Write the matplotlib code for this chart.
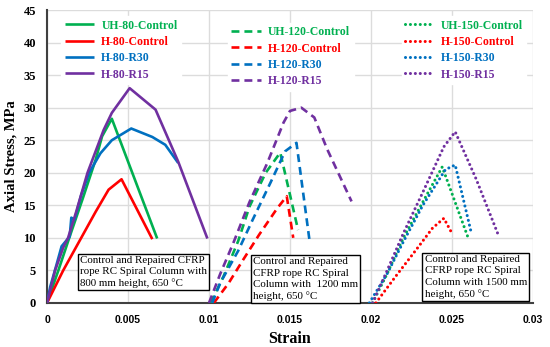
import matplotlib.pyplot as plt
from matplotlib.legend import Legend

# --- données ---
# 800 mm (traits pleins)
x_uh80 = [0, 0.0007, 0.0014, 0.0022, 0.0030, 0.0034, 0.0040, 0.0068]
y_uh80 = [0, 5.0, 10.2, 16.0, 22.0, 25.6, 28.3, 9.9]
x_h80 = [0, 0.0010, 0.0020, 0.0030, 0.0038, 0.0046, 0.0065]
y_h80 = [0, 5.0, 9.5, 14.0, 17.4, 19.0, 9.8]
x_h80_r30 = [0, 0.0002, 0.0006, 0.0009, 0.0014, 0.0015, 0.0017, 0.0021,
             0.0026, 0.0033, 0.0040, 0.0052, 0.0065, 0.0073, 0.0081]
y_h80_r30 = [0, 2.5, 6.0, 8.7, 10.2, 13.1, 12.8, 16.5,
             20.0, 23.0, 25.0, 26.8, 25.5, 24.3, 21.5]
x_h80_r15 = [0, 0.0005, 0.0010, 0.0013, 0.0018, 0.0025, 0.0035, 0.0040,
             0.0051, 0.0067, 0.0081, 0.0099]
y_h80_r15 = [0, 5.0, 8.5, 10.0, 14.0, 20.0, 26.6, 29.2,
             33.0, 29.7, 21.7, 9.9]

# 1200 mm (tirets)
x_uh120 = [0.0101, 0.0109, 0.0118, 0.0125, 0.0135, 0.0144, 0.0155]
y_uh120 = [0, 4.1, 9.5, 14.8, 20.0, 23.1, 11.2]
x_h120 = [0.0103, 0.0112, 0.0121, 0.0131, 0.0142, 0.0148, 0.0152]
y_h120 = [0, 3.0, 6.6, 10.5, 14.5, 16.4, 10.0]
x_h120_r30 = [0.0102, 0.0107, 0.0118, 0.0127, 0.0138, 0.0147, 0.0154, 0.0162]
y_h120_r30 = [0, 3.1, 8.0, 12.8, 18.5, 23.3, 24.6, 9.7]
x_h120_r15 = [0.0100, 0.0107, 0.0115, 0.0125, 0.0136, 0.0146, 0.0150,
              0.0157, 0.0165, 0.0173, 0.0188]
y_h120_r15 = [0, 4.5, 9.2, 15.5, 21.5, 27.7, 29.5, 30.0, 28.5, 23.6, 15.6]

# 1500 mm (pointillés)
x_uh150 = [0.0201, 0.0210, 0.0220, 0.0232, 0.0244, 0.0260]
y_uh150 = [0, 4.5, 10.0, 15.5, 20.9, 10.0]
x_h150 = [0.0203, 0.0215, 0.0228, 0.0238, 0.0245, 0.0250]
y_h150 = [0, 4.0, 8.2, 11.5, 13.0, 10.7]
x_h150_r30 = [0.0199, 0.0210, 0.0220, 0.0232, 0.0246, 0.0252, 0.0262]
y_h150_r30 = [0, 4.5, 9.4, 15.0, 20.5, 21.2, 10.7]
x_h150_r15 = [0.0201, 0.0210, 0.0220, 0.0232, 0.0245, 0.0252, 0.0265, 0.0279]
y_h150_r15 = [0, 5.0, 10.7, 17.0, 24.0, 26.3, 19.0, 10.2]

x_ticks = [0, 0.005, 0.01, 0.015, 0.02, 0.025, 0.03]
x_tick_labels = ["0", "0.005", "0.01", "0.015", "0.02", "0.025", "0.03"]
y_ticks = [0, 5, 10, 15, 20, 25, 30, 35, 40, 45]

GREEN, RED, BLUE, PURPLE = "#00B050", "#FF0000", "#0070C0", "#7030A0"
SERIF = "Liberation Serif"

fig = plt.figure(figsize=(5.5, 3.47), dpi=100)
ax = fig.add_axes([0.0855, 0.127, 0.8835, 0.844])

dash = (0, (3.0, 1.9))
dot = (0, (0.01, 1.6))

groupes = [
    [(x_uh80, y_uh80, GREEN, "UH-80-Control"), (x_h80, y_h80, RED, "H-80-Control"),
     (x_h80_r30, y_h80_r30, BLUE, "H-80-R30"), (x_h80_r15, y_h80_r15, PURPLE, "H-80-R15")],
    [(x_uh120, y_uh120, GREEN, "UH-120-Control"), (x_h120, y_h120, RED, "H-120-Control"),
     (x_h120_r30, y_h120_r30, BLUE, "H-120-R30"), (x_h120_r15, y_h120_r15, PURPLE, "H-120-R15")],
    [(x_uh150, y_uh150, GREEN, "UH-150-Control"), (x_h150, y_h150, RED, "H-150-Control"),
     (x_h150_r30, y_h150_r30, BLUE, "H-150-R30"), (x_h150_r15, y_h150_r15, PURPLE, "H-150-R15")],
]
styles = ["-", dash, dot]
largeurs = [1.9, 1.9, 2.2]

handles = []
for serie, ls, lw in zip(groupes, styles, largeurs):
    hs = []
    for x, y, c, lab in serie:
        h, = ax.plot(x, y, color=c, lw=lw, linestyle=ls, label=lab,
                     dash_capstyle="round" if ls is dot else "butt",
                     solid_capstyle="butt", zorder=3)
        hs.append(h)
    handles.append(hs)

ax.set_xlim(0, 0.03)
ax.set_ylim(0, 45)
ax.set_xticks(x_ticks)
ax.set_xticklabels(x_tick_labels, fontweight="bold", fontsize=7.5, family="Liberation Sans")
ax.set_yticks(y_ticks)
ax.set_yticklabels([str(v) for v in y_ticks], fontweight="bold", fontsize=9, family=SERIF)
ax.tick_params(axis="x", length=0, pad=9)
ax.tick_params(axis="y", length=0, pad=8)
ax.grid(True, color="#DCDCDC", lw=1.0)
ax.set_axisbelow(True)
for s in ["top", "right"]:
    ax.spines[s].set_visible(False)
for s in ["left", "bottom"]:
    ax.spines[s].set_linewidth(1.5)
    ax.spines[s].set_color("#404040")

ax.set_xlabel("Strain", fontweight="bold", fontsize=11.5, family=SERIF, labelpad=4)
ax.set_ylabel("Axial Stress, MPa", fontweight="bold", fontsize=10.5, family=SERIF, labelpad=4)

# légendes (3 colonnes)
pos_leg = [(0.017, 1.0), (0.36, 0.977), (0.718, 1.0)]
hlen = [2.5, 2.5, 2.4]
for hs, p, hl in zip(handles, pos_leg, hlen):
    leg = Legend(ax, hs, [h.get_label() for h in hs], loc="upper left",
                 bbox_to_anchor=p, frameon=True, fancybox=False, framealpha=1,
                 edgecolor="white", facecolor="white", handlelength=hl,
                 labelspacing=0.37, handletextpad=0.6, borderpad=0.3,
                 prop={"family": SERIF, "weight": "bold", "size": 8.5},
                 labelcolor="linecolor")
    ax.add_artist(leg)

# encadrés
notes = [
    (0.068, 0.05, "Control and Repaired CFRP\nrope RC Spiral Column with\n800 mm height, 650 \u00b0C"),
    (0.424, 0.006, "Control and Repaired\nCFRP rope RC Spiral\nColumn with  1200 mm\nheight, 650 \u00b0C"),
    (0.777, 0.014, "Control and Repaired\nCFRP rope RC Spiral\nColumn with 1500 mm\nheight, 650 \u00b0C"),
]
for xa, ya, txt in notes:
    ax.text(xa, ya, txt, transform=ax.transAxes, family=SERIF, fontsize=7.9,
            ha="left", va="bottom", linespacing=1.32, zorder=5,
            bbox=dict(boxstyle="square,pad=0.2", fc="white", ec="black", lw=1.0))

plt.savefig("out.png", dpi=100)
